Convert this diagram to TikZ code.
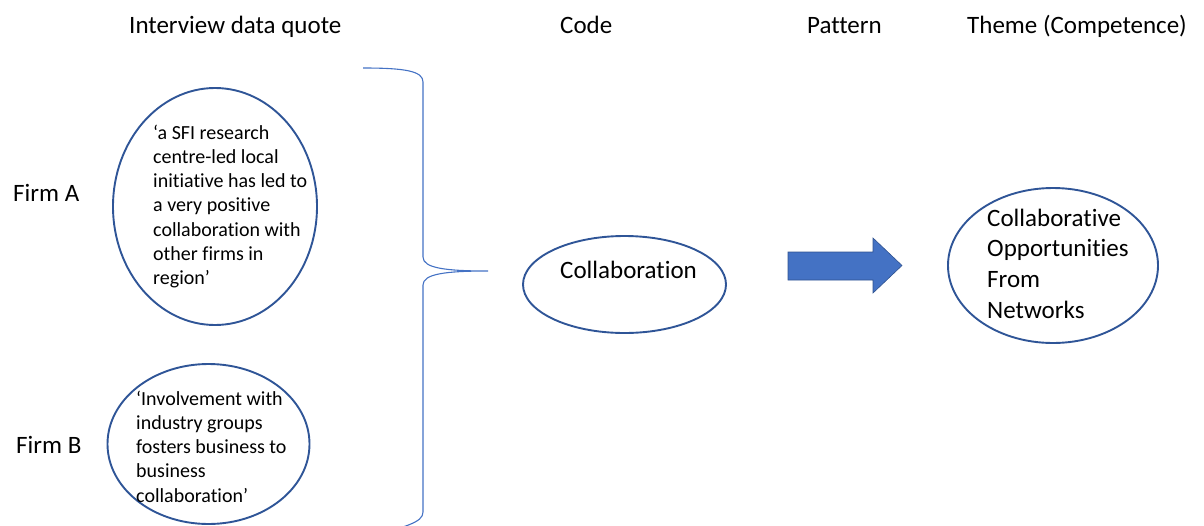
\documentclass[tikz,border=0pt]{standalone}
\usepackage{fontspec}
\setmainfont{Carlito}[Ligatures={NoCommon,NoContextual},Contextuals={NoAlternate},RawFeature={-liga;-clig;-calt}]
\usetikzlibrary{shapes.geometric}
\definecolor{ringblue}{HTML}{2F5597}
\definecolor{braceblue}{HTML}{4472C4}
\definecolor{arrowfill}{HTML}{4472C4}
\definecolor{arrowline}{HTML}{2F528F}
\tikzset{
  ring/.style={draw=ringblue, line width=1.9pt, ellipse, inner sep=0pt},
  bigtext/.style={font=\fontsize{25}{30.6}\selectfont, inner sep=0pt, text=black},
  quotetext/.style={font=\fontsize{20}{24.2}\selectfont, inner sep=0pt, align=left, anchor=north west, text=black},
  themetext/.style={font=\fontsize{25}{30.7}\selectfont, inner sep=0pt, align=left, anchor=north west, text=black},
  header/.style={bigtext, anchor=base west},
}
\begin{document}
\begin{tikzpicture}[x=1pt, y=-1pt]
\useasboundingbox (0,0) rectangle (1204,525);
\clip (0,0) rectangle (1204,525);

% column headings
\node[header] (h1) at (129,33) {Interview data quote};
\node[header] (h2) at (560,33) {Code};
\node[header] (h3) at (807,33) {Pattern};
\node[header] (h4) at (967,33) {Theme (Competence)};

% firm labels
\node[header] (fa) at (13,201) {Firm A};
\node[header] (fb) at (16,453) {Firm B};

% interview quotes
\node[ring, minimum width=204pt, minimum height=237pt] (qa) at (215,206.5) {};
\node[quotetext] (qatext) at (153,123) {\rule{0pt}{16pt}‘a SFI research\\centre-led local\\initiative has led to\\a very positive\\collaboration with\\other firms in\\region’};

\node[ring, minimum width=202pt, minimum height=160pt] (qb) at (208.5,444) {};
\node[quotetext] (qbtext) at (136,389) {\rule{0pt}{16pt}‘Involvement with\\industry groups\\fosters business to\\business\\collaboration’};

% brace gathering the quotes
\coordinate (btop) at (363,68);
\coordinate (btip) at (488,271);
\coordinate (bbot) at (363,540);
\draw[braceblue, line width=1.1pt]
  (btop) .. controls (405,68) and (423,71) .. (423,82)
  -- (423,257) .. controls (423,268) and (445,271) .. (btip)
  (btip) .. controls (445,271) and (423,274) .. (423,285)
  -- (423,512) .. controls (423,523) and (405,526) .. (bbot);

% code
\node[ring, minimum width=203pt, minimum height=97pt] (code) at (624.5,284.5) {};
\node[bigtext, anchor=base west] (codetext) at (560,278) {Collaboration};

% pattern arrow
\fill[arrowfill, draw=arrowline, line width=0.6pt]
  (788,252) -- (873,252) -- (873,238) -- (902,265.5) -- (873,293) -- (873,280) -- (788,280) -- cycle;

% theme
\node[ring, minimum width=210pt, minimum height=155pt] (theme) at (1053,265.5) {};
\node[themetext] (themetxt) at (987,206) {\rule{0pt}{20pt}Collaborative\\Opportunities\\From\\Networks};
\end{tikzpicture}
\end{document}
